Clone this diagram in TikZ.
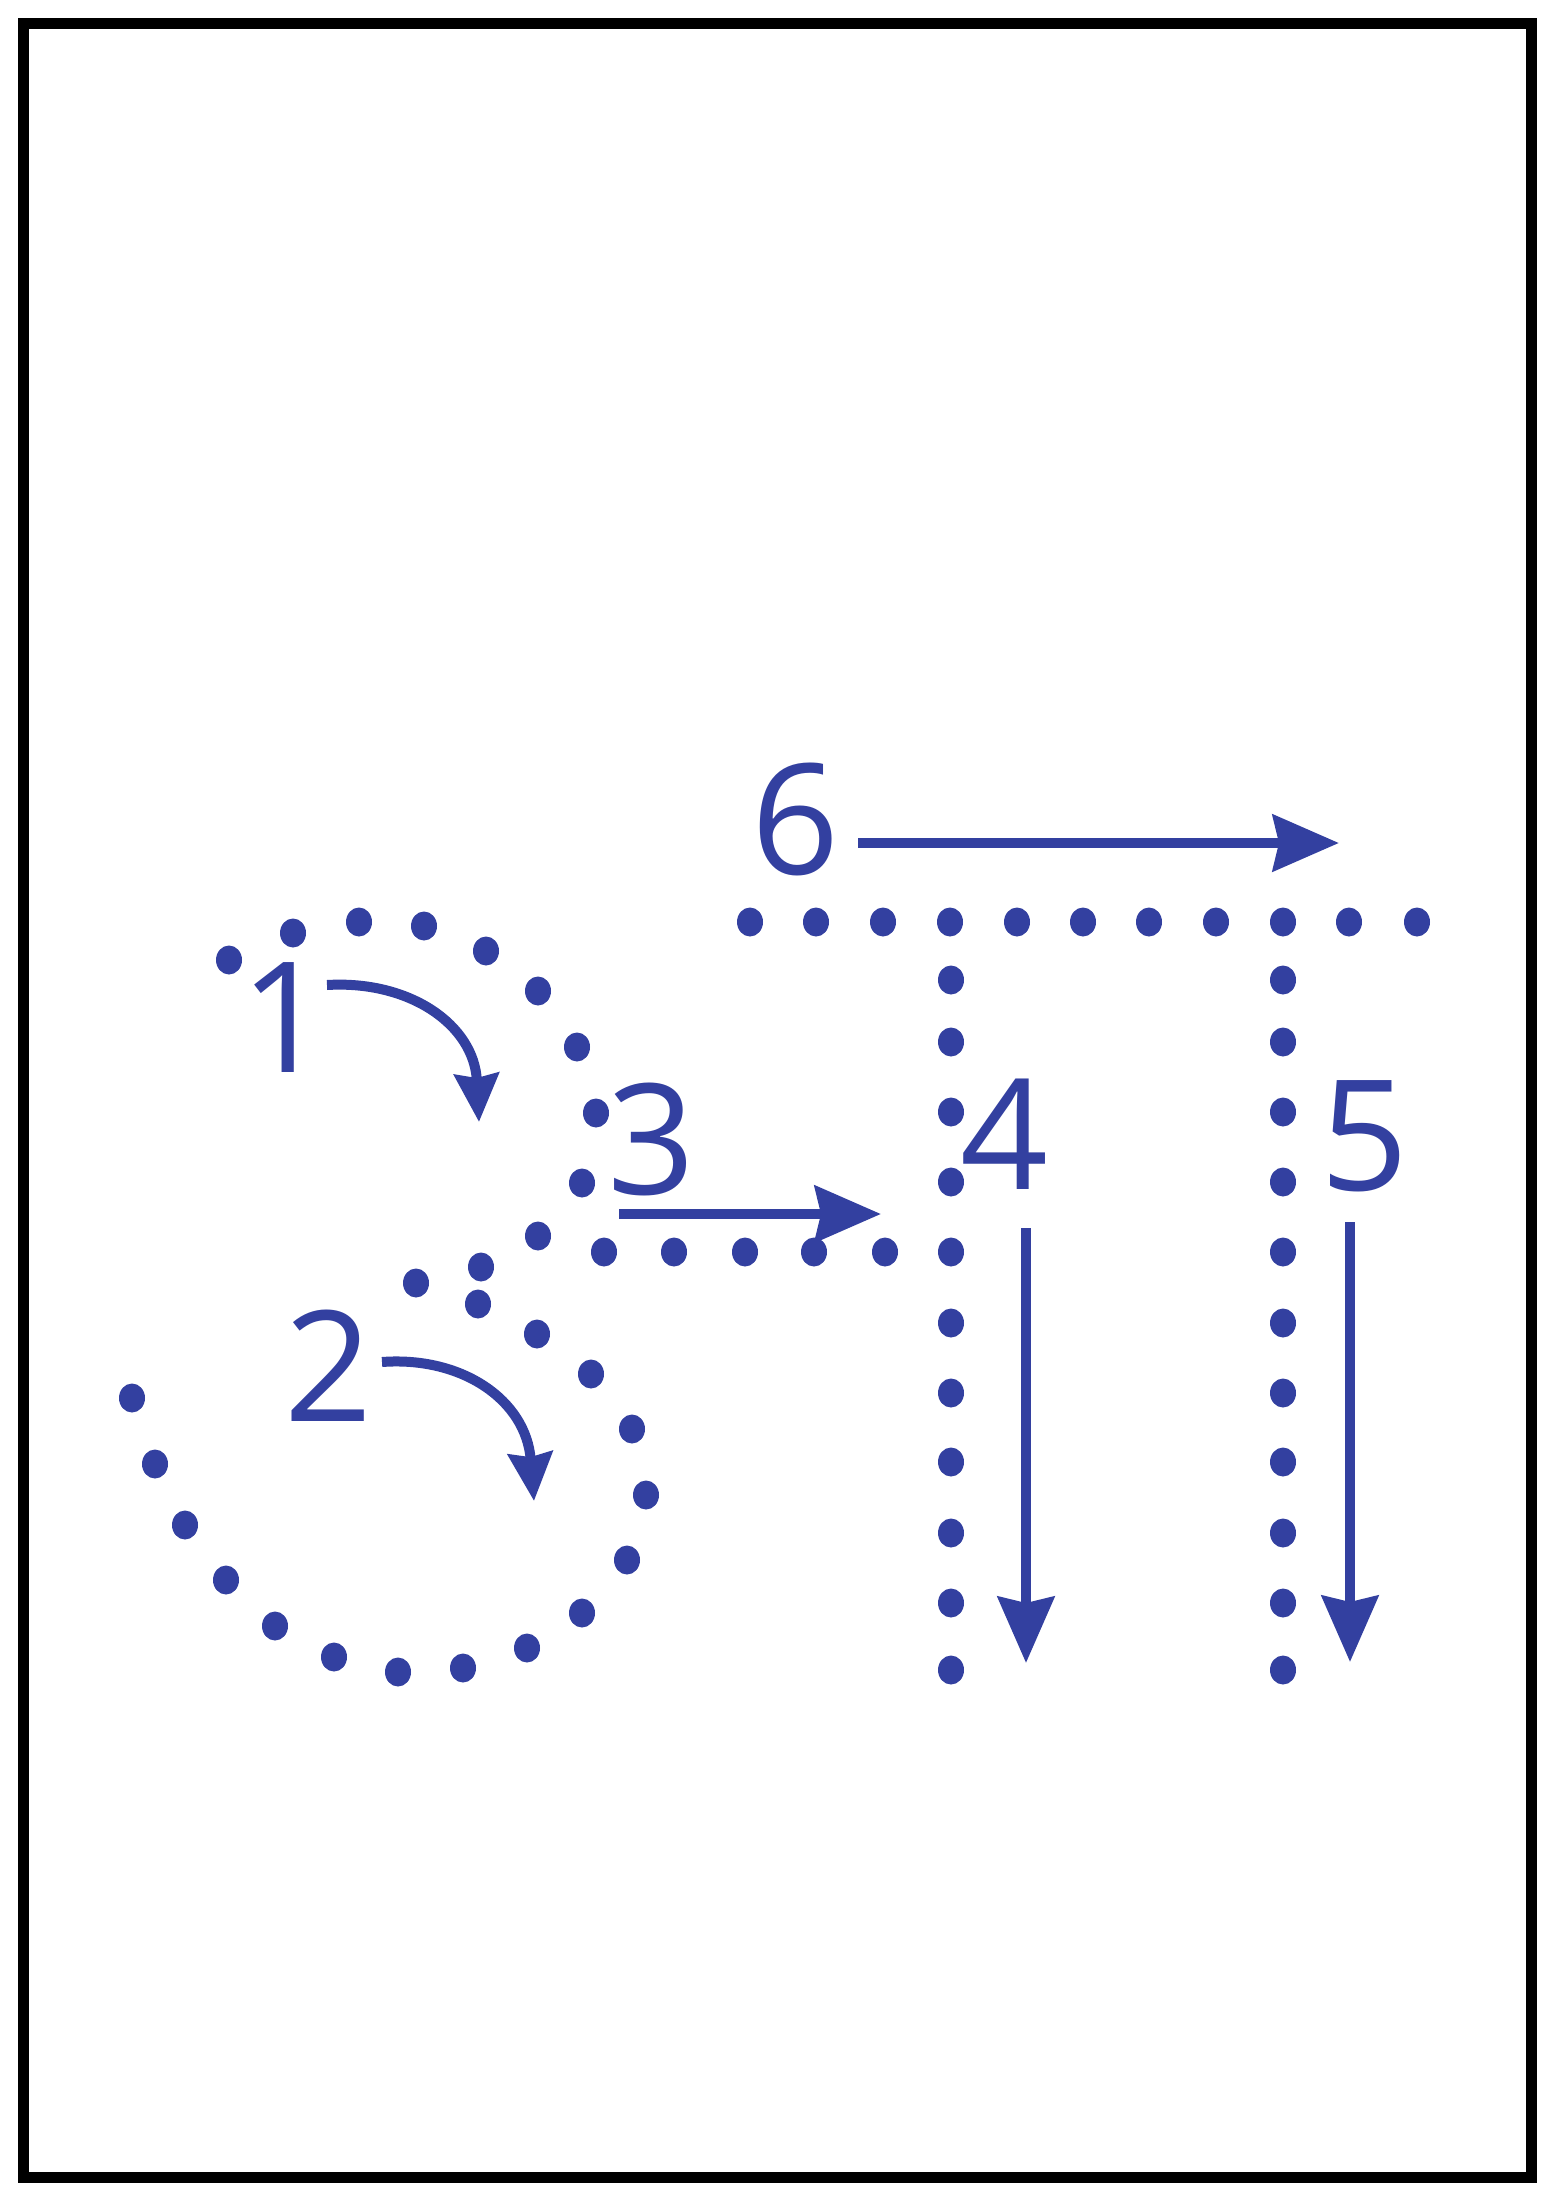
\documentclass[tikz,border=0pt]{standalone}
\usepackage{fontspec}
\setmainfont{Open Sans}
\usetikzlibrary{arrows.meta}
\definecolor{inkblue}{RGB}{51,64,160}
\begin{document}
\begin{tikzpicture}[x=0.5pt,y=-0.5pt,
  dot/.style={fill=inkblue},
  num/.style={text=inkblue, font=\fontsize{77}{77}\selectfont, inner sep=0pt, outer sep=0pt},
  straightarrow/.style={draw=inkblue, line width=5.3pt, -{Stealth[length=33pt,width=28pt,inset=3pt]}},
  curvearrow/.style={draw=inkblue, line width=5pt, -{Stealth[length=24pt,width=22pt,inset=2pt]}},
]
\useasboundingbox (0,0) rectangle (1556,2200);
\fill[white] (0,0) rectangle (1556,2200);
\draw[line width=5.5pt] (23.5,23.5) rectangle (1531.5,2177);
% stroke 1 arc and junction
\foreach \x/\y in {229/960, 293/933, 359/922, 424/926, 486/951, 538/991, 577/1047, 596/1113, 582/1183, 538/1236,
  481/1267, 416/1283, 478/1304}
  \fill[dot] (\x,\y) ellipse [x radius=13, y radius=14.5];
% stroke 3 row
\foreach \x in {604,674,745,814,885}
  \fill[dot] (\x,1252) ellipse [x radius=13, y radius=14.5];
% stroke 2 arc
\foreach \x/\y in {537/1334, 591/1374, 632/1429, 646/1495, 627/1560, 582/1613, 527/1648, 463/1668, 398/1672,
  334/1657, 275/1626, 226/1580, 185/1525, 155/1464, 132/1398}
  \fill[dot] (\x,\y) ellipse [x radius=13, y radius=14.5];
% top bar
\foreach \x in {750,816,883,950,1017,1083,1149,1216,1283,1349,1417}
  \fill[dot] (\x,922) ellipse [x radius=13, y radius=14.5];
% vertical strokes
\foreach \y in {980,1042,1112,1182,1252,1323,1393,1462,1533,1603,1670}{
  \fill[dot] (951,\y) ellipse [x radius=13, y radius=14.5];
  \fill[dot] (1283,\y) ellipse [x radius=13, y radius=14.5];
}
% numbers
\node[num] (n1) at (285,1018) {1};
\node[num] (n2) at (329,1366) {2};
\node[num] (n3) at (652,1139) {3};
\node[num] (n4) at (1005,1134) {4};
\node[num] (n5) at (1365,1136) {5};
\node[num] (n6) at (796,819) {6};
% arrows
\coordinate (a1s) at (327,985);  \coordinate (a1e) at (479,1122);
\coordinate (a2s) at (382,1362); \coordinate (a2e) at (534,1501);
\coordinate (a3s) at (619,1214); \coordinate (a3e) at (881,1214);
\coordinate (a4s) at (1026,1228); \coordinate (a4e) at (1026,1663);
\coordinate (a5s) at (1350,1222); \coordinate (a5e) at (1350,1662);
\coordinate (a6s) at (858,843);  \coordinate (a6e) at (1339,843);
\draw[curvearrow] (a1s) .. controls (410,980) and (474,1025) .. (a1e);
\draw[curvearrow] (a2s) .. controls (462,1356) and (526,1400) .. (a2e);
\draw[straightarrow] (a3s) -- (a3e);
\draw[straightarrow] (a4s) -- (a4e);
\draw[straightarrow] (a5s) -- (a5e);
\draw[straightarrow] (a6s) -- (a6e);
\end{tikzpicture}
\end{document}
